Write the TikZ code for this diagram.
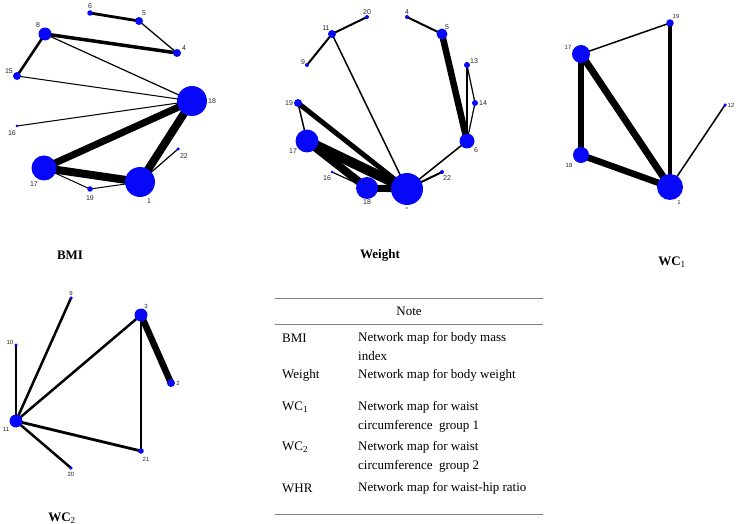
\documentclass[tikz,border=0pt]{standalone}
\usepackage{fontspec}
\setmainfont{Liberation Serif}
\newfontfamily\lblfont{Liberation Sans}
\usetikzlibrary{backgrounds}

\definecolor{netblue}{RGB}{8,8,248}
\tikzset{
  dot/.style={circle,fill=netblue,inner sep=0pt,minimum size=#1 pt},
  lbl/.style={font=\lblfont\fontsize{7}{8}\selectfont,text=black!85,inner sep=0pt},
  slbl/.style={lbl,font=\lblfont\fontsize{6}{7}\selectfont},
  ttl/.style={font=\fontsize{13}{15}\selectfont\bfseries,inner sep=0pt},
  cell/.style={font=\fontsize{13}{15}\selectfont,anchor=west,inner sep=0pt},
}

\begin{document}
\begin{tikzpicture}[x=1pt,y=-1pt]
\useasboundingbox (0,0) rectangle (740,524);

% BMI
\foreach \n/\x/\y/\d in {1/140/182/30,4/177/53/8,5/139/21/8,6/90/13/5.5,8/45/34/13,15/17/76/8,
    16/17/126/3,17/44/168/25,18/192/101/30,19/90/189/5.5,22/178/149/3.5}
  \node[dot=\d] (bmi\n) at (\x,\y) {};
\foreach \n/\x/\y in {1/149/201,4/184/48,5/144/13,6/90/6,8/38/25,15/9/71,16/12/133,17/34/184,
    18/212/101,19/90/198,22/184/156}
  \node[lbl] (lbmi\n) at (\x,\y) {\n};
\begin{scope}[on background layer]
\foreach \a/\b/\w in {6/5/2.8,5/4/1.3,8/4/3.5,8/15/2.5,8/18/1.2,15/18/1,16/18/1,18/17/7,
    18/1/8,17/1/8,17/19/1,19/1/1,22/1/1.2}
  \draw[line width=\w pt] (bmi\a.center) -- (bmi\b.center);
\end{scope}
\node[ttl] (tbmi) at (70,255) {BMI};

% Weight
\foreach \n/\x/\y/\d in {1/407/189/32,4/407/17/4,5/442/34/11,6/467/141/15,9/307/65/4,11/332/34/8,
    13/467/65/6,14/475/103/6,16/332/172/3,17/307/141/23,18/367/188/22,19/298/103/8,
    20/367/17/4,22/442/172/4}
  \node[dot=\d] (wt\n) at (\x,\y) {};
\foreach \n/\x/\y in {4/407/12,5/447/27,6/476/150,9/303/62,11/326/28,13/474/61,14/483/103,
    16/327/178,17/293/151,18/367/202,19/289/103,20/367/12,22/447/178}
  \node[lbl] (lwt\n) at (\x,\y) {\n};
\begin{scope}
  \clip (395,200) rectangle (420,209);
  \node[lbl] (lwt1) at (407,210) {1};
\end{scope}
\begin{scope}[on background layer]
\foreach \a/\b/\w in {20/11/2,11/9/2,11/1/1.5,4/5/2,5/6/6.5,13/6/1.2,13/14/1.2,14/6/1.2,
    6/1/1.5,22/1/2,19/17/1.5,19/1/5,17/1/10,17/18/8,16/18/1.2,18/1/7}
  \draw[line width=\w pt] (wt\a.center) -- (wt\b.center);
\end{scope}
\node[ttl] (twt) at (380,255) {Weight};

% WC1
\foreach \n/\x/\y/\d in {1/670/187/26,12/725/105/3.5,17/581/54/18,18/581/155/16,19/670/23/7.5}
  \node[dot=\d] (wca\n) at (\x,\y) {};
\foreach \n/\x/\y in {1/679/202,12/731/105,17/568/47,18/569/165,19/676/16}
  \node[slbl] (lwca\n) at (\x,\y) {\n};
\begin{scope}[on background layer]
\foreach \a/\b/\w in {17/19/1.5,19/1/3.5,17/18/6,17/1/7,18/1/6.5,12/1/1.5}
  \draw[line width=\w pt] (wca\a.center) -- (wca\b.center);
\end{scope}
\node[ttl] (twca) at (672,262) {WC\textsubscript{\mdseries1}};

% WC2
\foreach \n/\x/\y/\d in {2/171/383/8,3/141/315/13,9/71/298/3.5,10/16/345/3.5,11/16/421/13,
    20/71/468/3.5,21/141/451/5.5}
  \node[dot=\d] (wcb\n) at (\x,\y) {};
\foreach \n/\x/\y in {2/178/383,3/146/306,9/71/293,10/10/342,11/6/429,20/71/474,21/146/459}
  \node[slbl] (lwcb\n) at (\x,\y) {\n};
\begin{scope}[on background layer]
\foreach \a/\b/\w in {9/11/2.5,10/11/2.5,3/11/2.5,3/2/6.5,3/21/1.5,11/21/2.8,11/20/2.5}
  \draw[line width=\w pt] (wcb\a.center) -- (wcb\b.center);
\end{scope}
\node[ttl] (twcb) at (62,518) {WC\textsubscript{\mdseries2}};

% note table
\draw[gray,line width=0.8pt] (275,298) coordinate (ntl) -- (543,298) coordinate (ntr);
\draw[gray,line width=0.8pt] (275,324) coordinate (nml) -- (543,324) coordinate (nmr);
\draw[gray,line width=0.8pt] (275,514) coordinate (nbl) -- (543,514) coordinate (nbr);
\node[cell,anchor=center] (nhead) at (409,311) {Note};
\node[cell] (k1) at (282,338) {BMI};
\node[cell] (v1) at (358,338) {Network map for body mass};
\node[cell] (v1b) at (358,356) {index};
\node[cell] (k2) at (282,375) {Weight};
\node[cell] (v2) at (358,375) {Network map for body weight};
\node[cell] (k3) at (282,407) {WC\textsubscript{1}};
\node[cell] (v3) at (358,407) {Network map for waist};
\node[cell] (v3b) at (358,426) {circumference\ \ group 1};
\node[cell] (k4) at (282,447) {WC\textsubscript{2}};
\node[cell] (v4) at (358,447) {Network map for waist};
\node[cell] (v4b) at (358,466) {circumference\ \ group 2};
\node[cell] (k5) at (282,488) {WHR};
\node[cell] (v5) at (358,488) {Network map for waist-hip ratio};
\end{tikzpicture}
\end{document}
